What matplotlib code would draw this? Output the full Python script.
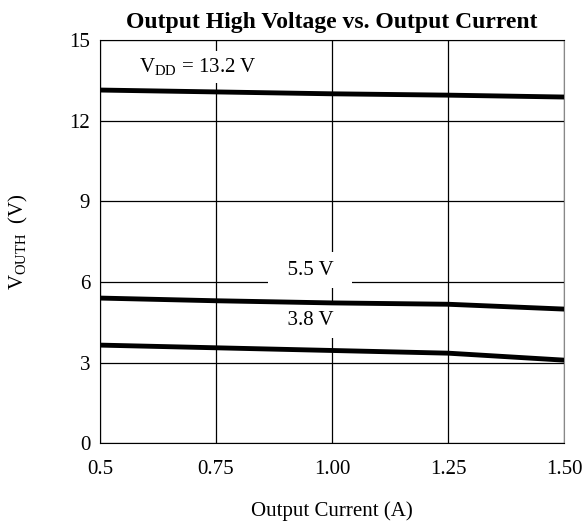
import matplotlib.pyplot as plt
import matplotlib

plt.rcParams['font.family'] = ['Liberation Serif', 'DejaVu Serif']
plt.rcParams['mathtext.fontset'] = 'custom'
plt.rcParams['mathtext.rm'] = 'Liberation Serif'

# output current (A)
current = [0.5, 0.75, 1.0, 1.25, 1.5]
# output high voltage (V) for each supply
v_132 = [13.14, 13.07, 13.0, 12.95, 12.88]
v_55 = [5.40, 5.30, 5.22, 5.17, 4.99]
v_38 = [3.65, 3.55, 3.45, 3.35, 3.09]

xticks = [0.5, 0.75, 1.0, 1.25, 1.5]
xticklabels = ['0.5', '0.75', '1.00', '1.25', '1.50']
yticks = [0, 3, 6, 9, 12, 15]

fig = plt.figure(figsize=(5.84, 5.27), dpi=100)
ax = fig.add_axes([0.171, 0.159, 0.795, 0.765])

for v in [v_132, v_55, v_38]:
    ax.plot(current, v, color='black', lw=3.5, solid_capstyle='round', zorder=3)

ax.set_xlim(0.5, 1.5)
ax.set_ylim(0, 15)
ax.set_xticks(xticks)
ax.set_xticklabels(xticklabels)
ax.set_yticks(yticks)
ax.tick_params(length=0, labelsize=15)
ax.tick_params(axis='x', pad=12)
ax.tick_params(axis='y', pad=7)
ax.grid(True, color='black', lw=0.9)
ax.set_axisbelow(True)
ax.spines['right'].set_color('#888888')
for s in ['left', 'bottom', 'top']:
    ax.spines[s].set_color('black')

box = dict(facecolor='white', edgecolor='none', pad=6)
ax.text(0.584, 14.0, r'V$_{\mathrm{DD}}$ = 13.2 V', fontsize=15, va='center', ha='left',
        bbox=dict(facecolor='white', edgecolor='none', pad=4), zorder=2)
ax.text(0.953, 6.44, '  5.5 V  ', fontsize=15, va='center', ha='center', bbox=box, zorder=2)
ax.text(0.953, 4.58, '  3.8 V  ', fontsize=15, va='center', ha='center', bbox=box, zorder=2)

ax.set_title('Output High Voltage vs. Output Current', fontsize=17, fontweight='bold', pad=9)
ax.set_xlabel('Output Current (A)', fontsize=15, labelpad=16)
ax.set_ylabel(r'V$_{\mathrm{OUTH}}$  (V)', fontsize=15, labelpad=28)

fig.savefig('out.png', dpi=100)
